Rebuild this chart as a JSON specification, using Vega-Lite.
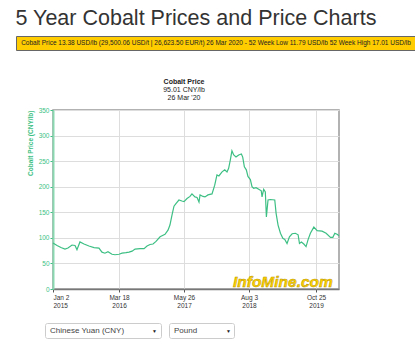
{
  "$schema": "https://vega.github.io/schema/vega-lite/v6.json",
  "background": "white",
  "padding": {"left": 15, "top": 8, "right": 0, "bottom": 0},
  "title": {"text": "5 Year Cobalt Prices and Price Charts", "anchor": "start", "fontSize": 21.5, "fontWeight": "normal", "font": "Liberation Sans", "color": "#333", "offset": 6},
  "spacing": 0,
  "config": {"font": "Liberation Sans", "view": {"stroke": null}},
  "vconcat": [
    {
      "width": 400, "height": 14,
      "view": {"fill": "#FFCC00", "stroke": "#666", "strokeWidth": 1},
      "data": {"values": [{"t": "Cobalt Price 13.38 USD/lb (29,500.06 USD/t | 26,623.50 EUR/t) 26 Mar 2020 - 52 Week Low 11.79 USD/lb 52 Week High 17.01 USD/lb"}]},
      "mark": {"type": "text", "fontSize": 6.5, "color": "#222"},
      "encoding": {"text": {"field": "t"}}
    },
    {"width": 10, "height": 26, "mark": "point", "data": {"values": []}},
    {
      "spacing": 0,
      "hconcat": [
        {"width": 10, "height": 1, "mark": "point", "data": {"values": []}},
        {
          "width": 286, "height": 179,
          "view": {"stroke": "#999", "strokeWidth": 1.5},
          "title": {"text": "Cobalt Price", "subtitle": ["95.01 CNY/lb", "26 Mar '20"], "anchor": "middle", "frame": "group", "dx": -12, "fontSize": 7, "fontWeight": "bold", "color": "#222", "subtitleFontSize": 7, "subtitleColor": "#222", "subtitlePadding": 1, "subtitleLineHeight": 8, "offset": 6},
          "layer": [
            {
              "data": {"values": [
                {"date": "2015-01-02", "price": 90},
                {"date": "2015-01-29", "price": 85},
                {"date": "2015-02-24", "price": 81},
                {"date": "2015-03-23", "price": 78},
                {"date": "2015-04-12", "price": 80},
                {"date": "2015-05-09", "price": 86},
                {"date": "2015-05-29", "price": 85},
                {"date": "2015-06-11", "price": 77},
                {"date": "2015-07-01", "price": 92},
                {"date": "2015-07-28", "price": 88},
                {"date": "2015-08-30", "price": 84},
                {"date": "2015-10-03", "price": 81},
                {"date": "2015-11-05", "price": 80},
                {"date": "2015-11-25", "price": 72},
                {"date": "2015-12-15", "price": 70},
                {"date": "2016-01-04", "price": 73},
                {"date": "2016-01-31", "price": 68},
                {"date": "2016-02-20", "price": 67},
                {"date": "2016-03-18", "price": 68},
                {"date": "2016-04-07", "price": 70},
                {"date": "2016-05-03", "price": 71},
                {"date": "2016-05-24", "price": 72},
                {"date": "2016-06-13", "price": 74},
                {"date": "2016-07-03", "price": 78},
                {"date": "2016-08-05", "price": 79},
                {"date": "2016-09-01", "price": 79},
                {"date": "2016-09-21", "price": 84},
                {"date": "2016-10-11", "price": 87},
                {"date": "2016-10-31", "price": 88},
                {"date": "2016-11-20", "price": 93},
                {"date": "2016-12-17", "price": 102},
                {"date": "2017-01-06", "price": 105},
                {"date": "2017-01-19", "price": 107},
                {"date": "2017-02-08", "price": 115},
                {"date": "2017-02-21", "price": 125},
                {"date": "2017-03-07", "price": 145},
                {"date": "2017-03-20", "price": 162},
                {"date": "2017-04-02", "price": 167},
                {"date": "2017-04-22", "price": 174},
                {"date": "2017-05-12", "price": 172},
                {"date": "2017-05-26", "price": 171},
                {"date": "2017-06-15", "price": 177},
                {"date": "2017-07-05", "price": 181},
                {"date": "2017-07-18", "price": 186},
                {"date": "2017-08-07", "price": 180},
                {"date": "2017-08-21", "price": 179},
                {"date": "2017-09-03", "price": 170},
                {"date": "2017-09-10", "price": 184},
                {"date": "2017-09-30", "price": 181},
                {"date": "2017-10-13", "price": 180},
                {"date": "2017-11-02", "price": 184},
                {"date": "2017-11-15", "price": 185},
                {"date": "2017-11-29", "price": 186},
                {"date": "2017-12-17", "price": 203},
                {"date": "2018-01-01", "price": 223},
                {"date": "2018-01-14", "price": 221},
                {"date": "2018-02-04", "price": 229},
                {"date": "2018-02-22", "price": 233},
                {"date": "2018-03-09", "price": 229},
                {"date": "2018-03-20", "price": 236},
                {"date": "2018-03-31", "price": 252},
                {"date": "2018-04-11", "price": 270},
                {"date": "2018-04-23", "price": 262},
                {"date": "2018-05-08", "price": 258},
                {"date": "2018-05-26", "price": 262},
                {"date": "2018-06-13", "price": 264},
                {"date": "2018-06-22", "price": 258},
                {"date": "2018-07-03", "price": 239},
                {"date": "2018-07-16", "price": 233},
                {"date": "2018-07-27", "price": 220},
                {"date": "2018-08-12", "price": 214},
                {"date": "2018-08-23", "price": 200},
                {"date": "2018-09-03", "price": 197},
                {"date": "2018-09-19", "price": 198},
                {"date": "2018-10-07", "price": 195},
                {"date": "2018-10-24", "price": 192},
                {"date": "2018-10-29", "price": 180},
                {"date": "2018-11-09", "price": 195},
                {"date": "2018-11-20", "price": 190},
                {"date": "2018-11-27", "price": 141},
                {"date": "2018-12-08", "price": 174},
                {"date": "2018-12-23", "price": 175},
                {"date": "2019-01-22", "price": 174},
                {"date": "2019-01-31", "price": 148},
                {"date": "2019-02-13", "price": 125},
                {"date": "2019-03-01", "price": 109},
                {"date": "2019-03-17", "price": 99},
                {"date": "2019-03-30", "price": 97},
                {"date": "2019-04-14", "price": 89},
                {"date": "2019-04-30", "price": 102},
                {"date": "2019-05-18", "price": 108},
                {"date": "2019-06-09", "price": 109},
                {"date": "2019-06-27", "price": 106},
                {"date": "2019-07-06", "price": 89},
                {"date": "2019-07-19", "price": 92},
                {"date": "2019-08-04", "price": 88},
                {"date": "2019-08-19", "price": 83},
                {"date": "2019-09-02", "price": 97},
                {"date": "2019-09-17", "price": 109},
                {"date": "2019-10-10", "price": 121},
                {"date": "2019-11-01", "price": 114},
                {"date": "2019-12-04", "price": 113},
                {"date": "2019-12-31", "price": 109},
                {"date": "2020-01-29", "price": 101},
                {"date": "2020-02-14", "price": 101},
                {"date": "2020-02-27", "price": 109},
                {"date": "2020-03-13", "price": 107},
                {"date": "2020-03-26", "price": 104}
              ]},
              "mark": {"type": "line", "color": "#3dbf84", "strokeWidth": 1.2},
              "encoding": {
                "x": {
                  "field": "date", "type": "temporal",
                  "scale": {"type": "utc", "domain": [{"year": 2015, "month": 1, "date": 2, "utc": true}, {"year": 2020, "month": 3, "date": 26, "utc": true}], "nice": false},
                  "axis": {
                    "title": null,
                    "values": [
                      {"year": 2015, "month": 1, "date": 2, "utc": true},
                      {"year": 2016, "month": 3, "date": 18, "utc": true},
                      {"year": 2017, "month": 5, "date": 26, "utc": true},
                      {"year": 2018, "month": 8, "date": 3, "utc": true},
                      {"year": 2019, "month": 10, "date": 25, "utc": true}
                    ],
                    "labelExpr": "[utcFormat(datum.value, '%b %-d'), utcFormat(datum.value, '%Y')]",
                    "labelFontSize": 6.5, "labelColor": "#333", "labelLineHeight": 8, "labelPadding": 2,
                    "tickSize": 3, "tickColor": "#555",
                    "domainColor": "#777", "domainWidth": 1.5,
                    "grid": true, "gridColor": "#ddd", "gridWidth": 1
                  }
                },
                "y": {
                  "field": "price", "type": "quantitative",
                  "scale": {"domain": [0, 350], "nice": false},
                  "axis": {
                    "title": "Cobalt Price (CNY/lb)", "titleColor": "#3dbf84", "titleFontSize": 6.5, "titleFontWeight": "bold", "titleAnchor": "end", "titlePadding": 5,
                    "values": [0, 50, 100, 150, 200, 250, 300, 350],
                    "labelOverlap": false,
                    "labelFontSize": 6.5, "labelColor": "#3dbf84", "labelPadding": 1,
                    "tickSize": 3, "tickColor": "#3dbf84",
                    "domainColor": "#8ad8b0", "domainWidth": 2,
                    "grid": true, "gridColor": "#ddd", "gridWidth": 1
                  }
                }
              }
            },
            {
              "data": {"values": [{"label": "InfoMine.com"}]},
              "mark": {"type": "text", "align": "right", "baseline": "alphabetic", "fontSize": 15.5, "fontStyle": "italic", "fontWeight": "bold", "fill": "#FFD300", "stroke": "#B89400", "strokeWidth": 0.5},
              "encoding": {
                "x": {
                  "datum": {"year": 2020, "month": 2, "date": 14, "utc": true}, "type": "temporal",
                  "scale": {"type": "utc", "domain": [{"year": 2015, "month": 1, "date": 2, "utc": true}, {"year": 2020, "month": 3, "date": 26, "utc": true}], "nice": false},
                  "axis": {
                    "title": null,
                    "values": [
                      {"year": 2015, "month": 1, "date": 2, "utc": true},
                      {"year": 2016, "month": 3, "date": 18, "utc": true},
                      {"year": 2017, "month": 5, "date": 26, "utc": true},
                      {"year": 2018, "month": 8, "date": 3, "utc": true},
                      {"year": 2019, "month": 10, "date": 25, "utc": true}
                    ],
                    "labelExpr": "[utcFormat(datum.value, '%b %-d'), utcFormat(datum.value, '%Y')]",
                    "labelFontSize": 6.5, "labelColor": "#333", "labelLineHeight": 8, "labelPadding": 2,
                    "tickSize": 3, "tickColor": "#555",
                    "domainColor": "#777", "domainWidth": 1.5,
                    "grid": true, "gridColor": "#ddd", "gridWidth": 1
                  }
                },
                "y": {
                  "datum": 4, "type": "quantitative",
                  "scale": {"domain": [0, 350], "nice": false},
                  "axis": {
                    "title": "Cobalt Price (CNY/lb)", "titleColor": "#3dbf84", "titleFontSize": 6.5, "titleFontWeight": "bold", "titleAnchor": "end", "titlePadding": 5,
                    "values": [0, 50, 100, 150, 200, 250, 300, 350],
                    "labelOverlap": false,
                    "labelFontSize": 6.5, "labelColor": "#3dbf84", "labelPadding": 1,
                    "tickSize": 3, "tickColor": "#3dbf84",
                    "domainColor": "#8ad8b0", "domainWidth": 2,
                    "grid": true, "gridColor": "#ddd", "gridWidth": 1
                  }
                },
                "text": {"field": "label"}
              }
            }
          ]
        }
      ]
    },
    {"width": 10, "height": 12, "mark": "point", "data": {"values": []}},
    {
      "spacing": 0,
      "hconcat": [
        {"width": 28, "height": 1, "mark": "point", "data": {"values": []}},
        {
          "width": 116, "height": 15,
          "view": {"fill": "white", "stroke": "#ccc", "strokeWidth": 1, "cornerRadius": 2},
          "data": {"values": [{"label": "Chinese Yuan (CNY)"}]},
          "layer": [
            {"mark": {"type": "text", "align": "left", "dx": 5, "fontSize": 8, "color": "#444"}, "encoding": {"x": {"datum": 0, "type": "quantitative", "scale": {"domain": [0, 1]}, "axis": null}, "text": {"field": "label"}}},
            {"mark": {"type": "text", "align": "right", "dx": -4, "fontSize": 5, "color": "#222", "text": "▼"}, "encoding": {"x": {"datum": 1, "type": "quantitative", "scale": {"domain": [0, 1]}, "axis": null}}}
          ]
        },
        {"width": 6, "height": 1, "mark": "point", "data": {"values": []}},
        {
          "width": 65, "height": 15,
          "view": {"fill": "white", "stroke": "#ccc", "strokeWidth": 1, "cornerRadius": 2},
          "data": {"values": [{"label": "Pound"}]},
          "layer": [
            {"mark": {"type": "text", "align": "left", "dx": 5, "fontSize": 8, "color": "#444"}, "encoding": {"x": {"datum": 0, "type": "quantitative", "scale": {"domain": [0, 1]}, "axis": null}, "text": {"field": "label"}}},
            {"mark": {"type": "text", "align": "right", "dx": -3, "fontSize": 5, "color": "#222", "text": "▼"}, "encoding": {"x": {"datum": 1, "type": "quantitative", "scale": {"domain": [0, 1]}, "axis": null}}}
          ]
        }
      ]
    }
  ]
}
